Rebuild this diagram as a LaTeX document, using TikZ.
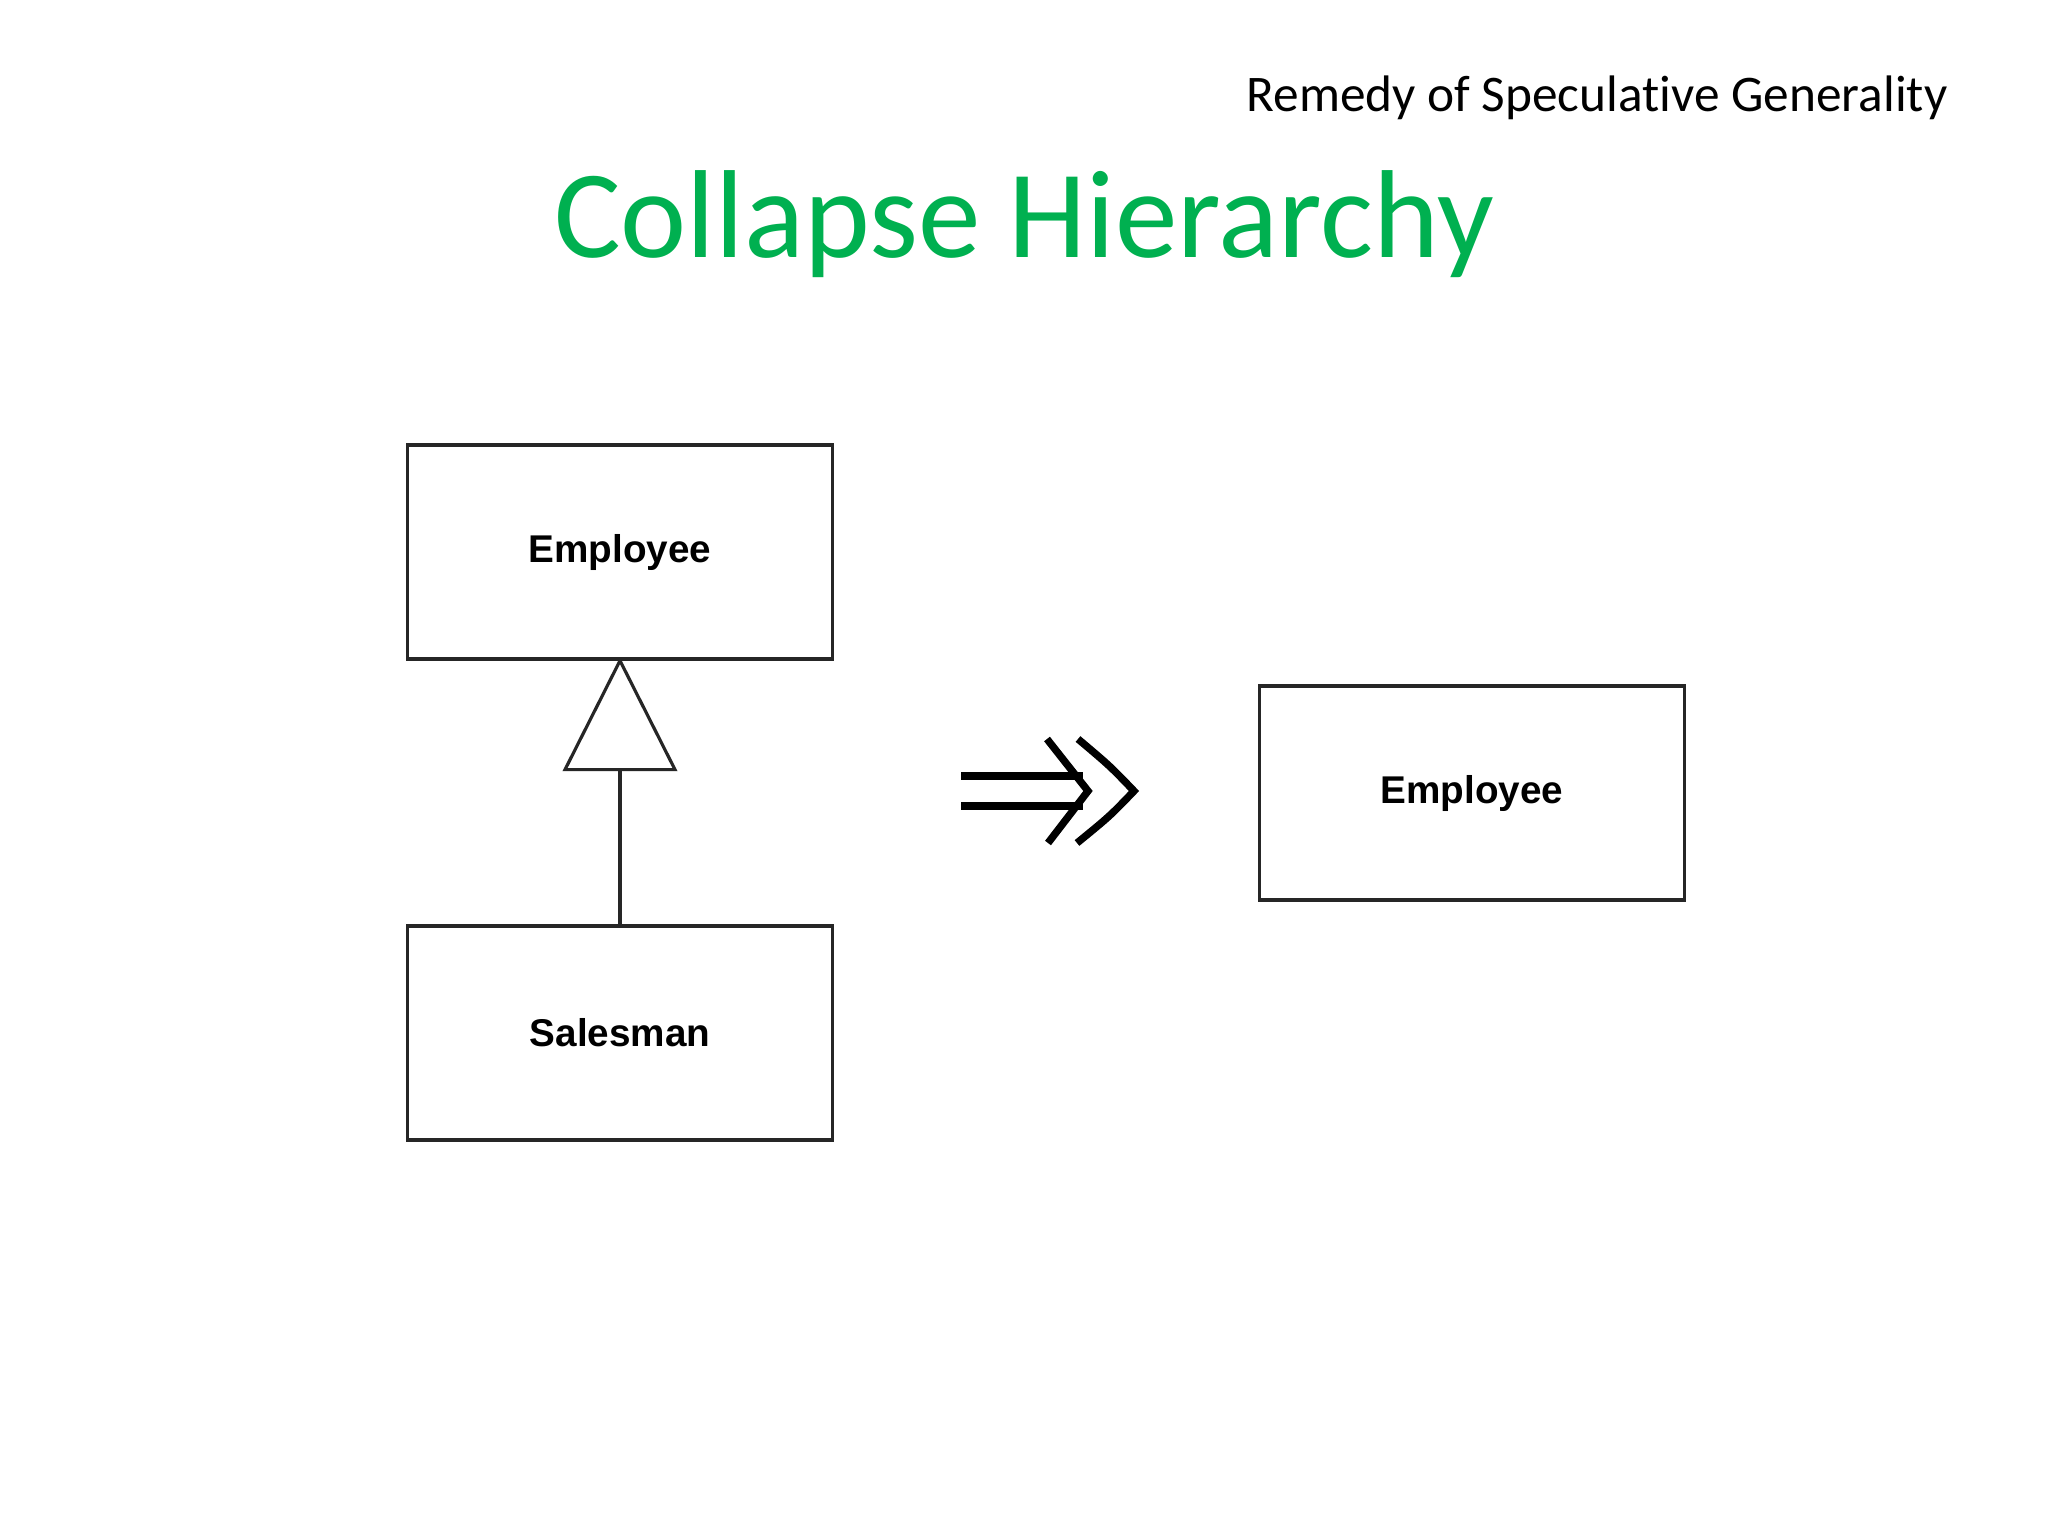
\documentclass[tikz,border=0pt]{standalone}
\usepackage{fontspec}
\usetikzlibrary{calc}
\setmainfont{Carlito}[Ligatures=NoCommon]
\newfontfamily\uml{Liberation Sans}
\definecolor{titlegreen}{RGB}{0,176,80}
\begin{document}
\begin{tikzpicture}[x=0.01cm,y=-0.01cm,
  umlbox/.style={draw=black!85, line width=0.9pt, fill=white, minimum width=4.25cm, minimum height=2.14cm, inner sep=0pt,
    font=\uml\bfseries\fontsize{11pt}{13pt}\selectfont},
  umlline/.style={draw=black!85, line width=0.9pt},
  bigarrow/.style={draw=black, line width=2.1pt}]
\fill[white] (0,0) rectangle (2048,1536);
\useasboundingbox (0,0) rectangle (2048,1536);

\node[anchor=base east, inner sep=0pt, font=\fontsize{14.6pt}{18pt}\selectfont] (sub) at (1948,111) {Remedy of Speculative Generality};
\node[anchor=base, inner sep=0pt, text=titlegreen, font=\fontsize{35.6pt}{42pt}\selectfont] (title) at (1024,257) {Collapse Hierarchy};

\node[umlbox] (emp) at (620,552) {\raisebox{-0.07cm}{Employee}};
\node[umlbox] (sales) at (620,1033) {\raisebox{-0.04cm}{Salesman}};
\node[umlbox] (emp2) at (1472,793) {\raisebox{-0.07cm}{Employee}};

\coordinate (tribase) at ($(emp.south)+(0,109)$);
\draw[umlline, fill=white, line join=miter] (emp.south) -- ($(tribase)+(-55,0)$) -- ($(tribase)+(55,0)$) -- cycle;
\draw[umlline] (sales.north) -- (tribase);

\coordinate (a1) at (961,776);
\coordinate (a2) at (961,806);
\draw[bigarrow] (a1) -- (1083,776);
\draw[bigarrow] (a2) -- (1083,806);
\draw[bigarrow] (1047,739) -- (1088,791) -- (1048,843);
\draw[bigarrow] (1078,739) .. controls (1110,766) .. (1134,791) .. controls (1110,816) .. (1077,843);
\end{tikzpicture}
\end{document}
